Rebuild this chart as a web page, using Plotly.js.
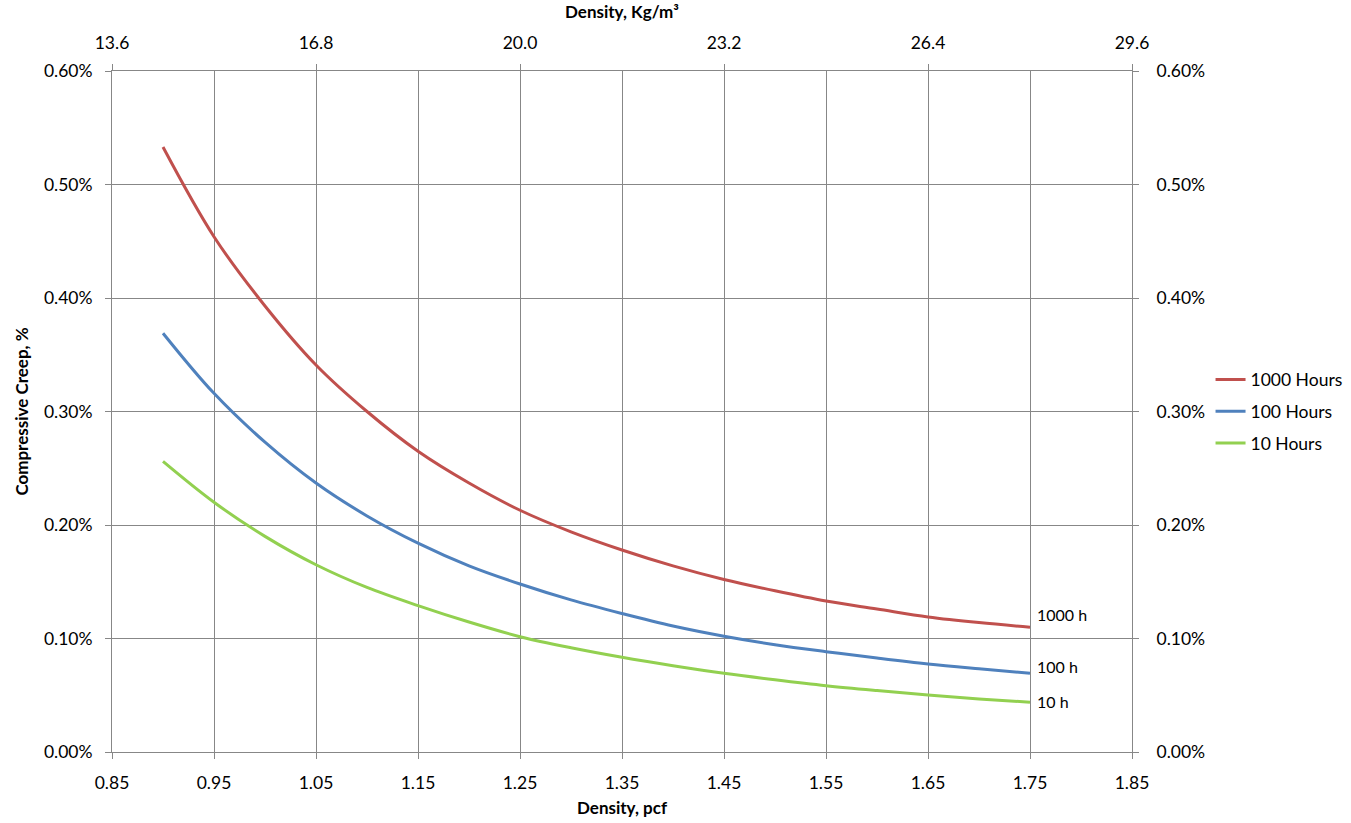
<!DOCTYPE html>
<html>
<head>
<meta charset="utf-8">
<script src="https://cdn.plot.ly/plotly-3.0.1.min.js"></script>
<style>html,body{margin:0;padding:0;background:#fff;}#chart{width:1351px;height:823px;}</style>
</head>
<body>
<div id="chart"></div>
<script>
// Density, pcf
const density = [0.90, 0.95, 1.00, 1.05, 1.10, 1.15, 1.20, 1.25, 1.30, 1.35, 1.40, 1.45, 1.50, 1.55, 1.60, 1.65, 1.70, 1.75];
// Compressive creep (fraction)
const creep1000 = [0.00533, 0.00454, 0.00393, 0.00341, 0.00300, 0.00265, 0.00237, 0.00213, 0.00194, 0.00178, 0.00164, 0.00152, 0.00142, 0.00133, 0.00126, 0.00119, 0.00114, 0.00110];
const creep100  = [0.00369, 0.00316, 0.00273, 0.00237, 0.00208, 0.00184, 0.00164, 0.00148, 0.00134, 0.00122, 0.00111, 0.00102, 0.000945, 0.000884, 0.000828, 0.000776, 0.000733, 0.000693];
const creep10   = [0.00256, 0.00220, 0.00190, 0.00165, 0.00145, 0.00129, 0.001145, 0.001016, 0.000918, 0.000834, 0.000760, 0.000693, 0.000636, 0.000584, 0.000541, 0.000502, 0.000468, 0.000438];
const seriesNames = ["1000 Hours", "100 Hours", "10 Hours"];
const endLabels = ["1000 h", "100 h", "10 h"];
const colors = ["#C0504D", "#4F81BD", "#92D050"];
const bottomTicks = [0.85, 0.95, 1.05, 1.15, 1.25, 1.35, 1.45, 1.55, 1.65, 1.75, 1.85];
const topTicks = [13.6, 16.8, 20.0, 23.2, 26.4, 29.6];

const FONT = "Lato, 'Open Sans', sans-serif";
const TS = 17.5;
const series = [creep1000, creep100, creep10];
const traces = series.map((ys, i) => ({
  x: density, y: ys, type: "scatter", mode: "lines",
  name: seriesNames[i], legendgroup: "g" + i,
  line: {color: colors[i], width: 3, shape: "spline", smoothing: 1},
  hoverinfo: "x+y"
}));

const yshifts = [13, 7, 1];
const annotations = series.map((ys, i) => ({
  x: density[density.length - 1], y: ys[ys.length - 1], xref: "x", yref: "y",
  text: endLabels[i], showarrow: false, xanchor: "left", yanchor: "middle",
  xshift: 5, yshift: yshifts[i], font: {family: FONT, size: 16, color: "#000"}
}));

const grid = "#878787";
const layout = {
  width: 1351, height: 823,
  margin: {l: 112, r: 219, t: 71, b: 71, autoexpand: false},
  paper_bgcolor: "#fff", plot_bgcolor: "#fff",
  font: {family: FONT, size: TS, color: "#000"},
  showlegend: true,
  legend: {x: 1.077, xanchor: "left", y: 0.5, yanchor: "middle", font: {family: FONT, size: TS}, tracegroupgap: 6, itemwidth: 30, bgcolor: "rgba(0,0,0,0)"},
  xaxis: {
    range: [0.85, 1.85], tickvals: bottomTicks, ticktext: bottomTicks.map(v => v.toFixed(2)),
    showgrid: true, gridcolor: grid, gridwidth: 1,
    showline: true, linecolor: grid, linewidth: 1, mirror: false,
    ticks: "outside", ticklen: 6, tickcolor: grid, zeroline: false, ticklabelstandoff: 9,
    tickfont: {family: FONT, size: TS},
    title: {text: "<b>Density, pcf</b>", font: {family: FONT, size: 17}, standoff: 10}
  },
  xaxis2: {
    overlaying: "x", side: "top", anchor: "y",
    range: [13.6, 29.6], tickvals: topTicks, ticktext: topTicks.map(v => v.toFixed(1)),
    showgrid: false, showline: true, linecolor: grid, ticks: "outside", ticklen: 6, tickcolor: grid,
    zeroline: false, ticklabelstandoff: 8, tickfont: {family: FONT, size: TS},
    title: {text: "<b>Density, Kg/m³</b>", font: {family: FONT, size: 17}, standoff: 9}
  },
  yaxis: {
    range: [0, 0.006], dtick: 0.001, tickformat: ".2%",
    showgrid: true, gridcolor: grid, gridwidth: 1,
    showline: true, linecolor: grid, ticks: "outside", ticklen: 6, tickcolor: grid, zeroline: false,
    ticklabelstandoff: 9, tickfont: {family: FONT, size: TS},
    title: {text: "<b>Compressive Creep, %</b>", font: {family: FONT, size: 17}, standoff: 10}
  },
  yaxis2: {
    overlaying: "y", side: "right", anchor: "x",
    range: [0, 0.006], dtick: 0.001, tickformat: ".2%",
    showgrid: false, showline: true, linecolor: grid, ticks: "outside", ticklen: 6, tickcolor: grid, zeroline: false,
    ticklabelstandoff: 14, tickfont: {family: FONT, size: TS}
  },
  annotations: annotations
};

// invisible helper traces so the secondary axes are drawn
traces.push({x: [], y: [], xaxis: "x2", yaxis: "y", type: "scatter", mode: "lines", showlegend: false, hoverinfo: "skip"});
traces.push({x: [], y: [], xaxis: "x", yaxis: "y2", type: "scatter", mode: "lines", showlegend: false, hoverinfo: "skip"});

Plotly.newPlot("chart", traces, layout, {displayModeBar: false, staticPlot: true});
</script>
</body>
</html>
